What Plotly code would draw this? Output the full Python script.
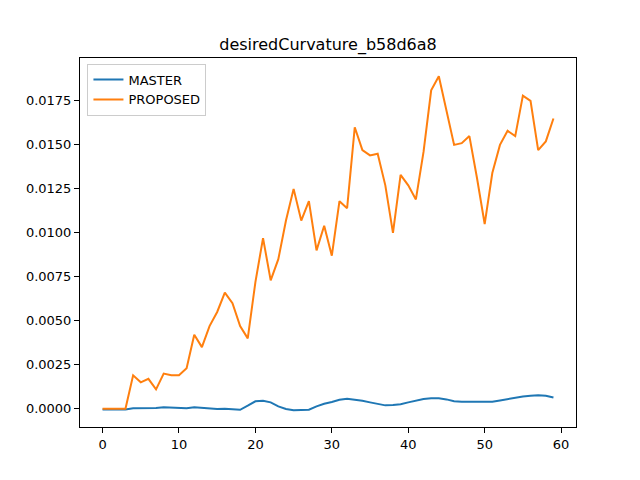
import plotly.graph_objects as go

x_vals = list(range(60))
master = [-0.00004, -0.00004, -0.00004, -0.00004, 0.00002, 0.00002, 0.0, 0.00004, 0.00008, 0.00006,
          0.00006, 0.00002, 0.00008, 0.00004, 0.00002, -0.00002, 0.0, -0.00004, -0.00006, 0.00017,
          0.00042, 0.00045, 0.00036, 0.00013, -0.00002, -0.00009, -0.00009, -0.00006, 0.00013, 0.00028,
          0.00038, 0.00051, 0.00057, 0.00053, 0.00045, 0.00036, 0.00026, 0.00019, 0.00021, 0.00025,
          0.00036, 0.00047, 0.00055, 0.00059, 0.00059, 0.00053, 0.00043, 0.00040, 0.00040, 0.00036,
          0.00036, 0.00040, 0.00047, 0.00055, 0.00060, 0.00070, 0.00074, 0.00077, 0.00074, 0.00064]
proposed = [0.0, 0.0, 0.0, 0.0, 0.0019, 0.0015, 0.0017, 0.0011, 0.0020, 0.0019,
            0.0019, 0.0023, 0.0042, 0.0035, 0.0047, 0.0055, 0.0066, 0.0060, 0.0047, 0.0040,
            0.0072, 0.0097, 0.0073, 0.0085, 0.0107, 0.0125, 0.0107, 0.0118, 0.0090, 0.0104,
            0.0087, 0.0118, 0.0114, 0.0160, 0.0147, 0.0144, 0.0145, 0.0127, 0.0100, 0.0133,
            0.0127, 0.0119, 0.0146, 0.0181, 0.0189, 0.0170, 0.0150, 0.0151, 0.0155, 0.0131,
            0.0105, 0.0134, 0.0150, 0.0158, 0.0155, 0.0178, 0.0175, 0.0147, 0.0152, 0.0165]
x_ticks = [0, 10, 20, 30, 40, 50, 60]
y_ticks = [0.0, 0.0025, 0.005, 0.0075, 0.01, 0.0125, 0.015, 0.0175]

fig = go.Figure()
fig.add_trace(go.Scatter(x=x_vals, y=master, mode="lines", name="MASTER",
                         line=dict(color="#1f77b4", width=2)))
fig.add_trace(go.Scatter(x=x_vals, y=proposed, mode="lines", name="PROPOSED",
                         line=dict(color="#ff7f0e", width=2)))

axis_common = dict(showline=True, linecolor="black", linewidth=1, mirror=True,
                   ticks="outside", ticklen=5, tickwidth=1, tickcolor="black",
                   showgrid=False, zeroline=False,
                   tickfont=dict(family="DejaVu Sans", size=13, color="black"))
fig.update_layout(
    width=640, height=480,
    margin=dict(l=80, r=64, t=58, b=53),
    paper_bgcolor="white", plot_bgcolor="white",
    title=dict(text="desiredCurvature_b58d6a8", x=0.5, xanchor="center",
               xref="paper", y=1 - 44 / 480, yanchor="middle",
               font=dict(family="DejaVu Sans", size=16, color="black")),
    xaxis=dict(range=[-2.95, 61.95], tickvals=x_ticks, **axis_common),
    yaxis=dict(range=[-0.00104, 0.01994], tickvals=y_ticks, tickformat=".4f", **axis_common),
    legend=dict(x=0.015, y=0.985, xanchor="left", yanchor="top",
                bordercolor="#cccccc", borderwidth=1, bgcolor="white",
                font=dict(family="DejaVu Sans", size=13, color="black")),
    showlegend=True,
)
fig.write_html("out.html", config={"displayModeBar": False},
               post_script="document.body.style.margin='0';")
